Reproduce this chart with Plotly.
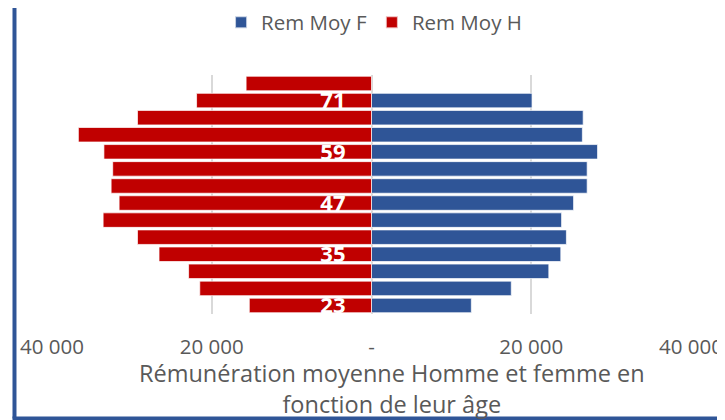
import plotly.graph_objects as go

ages = [23, 27, 31, 35, 39, 43, 47, 51, 55, 59, 63, 67, 71, 75]
rem_moy_f = [12500, 17500, 22200, 23700, 24400, 23800, 25300, 27000, 27000, 28300, 26400, 26500, 20100, None]
rem_moy_h = [15300, 21500, 22900, 26600, 29300, 33600, 31600, 32600, 32400, 33500, 36700, 29300, 21900, 15700]
age_tick_vals = [23, 35, 47, 59, 71]
age_tick_text = ["23", "35", "47", "59", "71"]
x_tick_vals = [-40000, -20000, 0, 20000, 40000]
x_tick_text = ["40 000", "20 000", "-", "20 000", "40 000"]

BLUE = "#2F5597"
RED = "#C00000"
GREY = "#595959"
FONT = "Open Sans"

fig = go.Figure()
fig.add_trace(go.Bar(
    y=ages, x=rem_moy_f, orientation="h", name="Rem Moy F",
    marker=dict(color=BLUE, line=dict(color="rgba(255,255,255,0.7)", width=1)),
    width=3.4,
))
fig.add_trace(go.Bar(
    y=ages, x=[-v for v in rem_moy_h], orientation="h", name="Rem Moy H",
    marker=dict(color=RED, line=dict(color="rgba(255,255,255,0.7)", width=1)),
    width=3.4,
))

# page body has an 8px margin: figure is sized/positioned to compensate
fig.update_layout(
    width=717, height=412,
    margin=dict(l=44, r=34, t=67, b=106, autoexpand=False),
    paper_bgcolor="white", plot_bgcolor="white",
    barmode="overlay",
    font=dict(family=FONT, color=GREY),
    showlegend=True,
    legend=dict(orientation="h", x=0.504, xanchor="center", y=1.22, yanchor="middle",
                font=dict(size=20.5, color=GREY, family=FONT), itemsizing="constant",
                traceorder="normal", bgcolor="rgba(0,0,0,0)"),
    xaxis=dict(
        range=[-40000, 40000], tickvals=x_tick_vals, ticktext=x_tick_text,
        showgrid=True, gridcolor="#D9D9D9", gridwidth=1.5,
        zeroline=True, zerolinecolor="#D9D9D9", zerolinewidth=1.5,
        showline=False, ticks="", ticklabelstandoff=18, automargin=False,
        tickfont=dict(size=20.5, color=GREY, family=FONT),
        fixedrange=True,
    ),
    yaxis=dict(
        range=[21, 77], tickvals=age_tick_vals, ticktext=age_tick_text,
        anchor="free", position=0.5, side="left", automargin=False,
        showgrid=False, zeroline=False, showline=False, ticks="",
        ticklabelstandoff=26,
        tickfont=dict(size=22, color="white", family=FONT, weight="bold"),
        layer="above traces",
    ),
    annotations=[dict(
        text="Rémunération moyenne Homme et femme en<br>fonction de leur âge",
        xref="paper", yref="paper", x=0.532, y=-0.31, xanchor="center", yanchor="middle",
        showarrow=False, font=dict(size=23.5, color=GREY, family=FONT),
    )],
    shapes=[
        dict(type="line", xref="paper", yref="paper", x0=-0.0587, x1=-0.0587, y0=-0.437, y1=1.32,
             line=dict(color=BLUE, width=4)),
        dict(type="line", xref="paper", yref="paper", x0=-0.0618, x1=1.06, y0=-0.437, y1=-0.437,
             line=dict(color=BLUE, width=4)),
    ],
)

fig.write_html("out.html")
